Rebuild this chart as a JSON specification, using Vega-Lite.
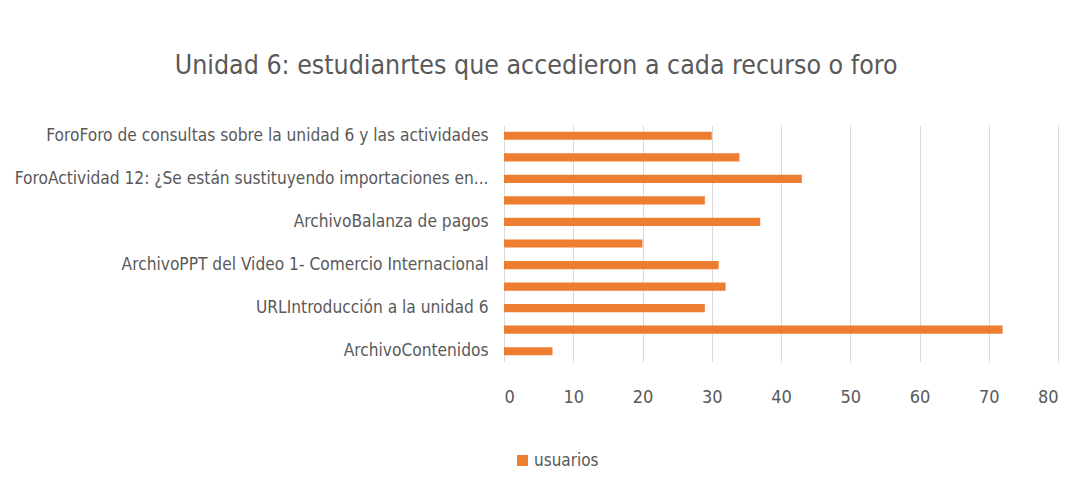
{
  "$schema": "https://vega.github.io/schema/vega-lite/v6.json",
  "autosize": {"type": "none"},
  "width": 554,
  "height": 237,
  "padding": {"left": 504, "top": 125, "right": 26, "bottom": 142},
  "background": "white",
  "title": {
    "text": "Unidad 6: estudianrtes que accedieron a cada recurso o foro",
    "font": "DejaVu Sans Condensed",
    "fontSize": 26.5,
    "fontWeight": "normal",
    "color": "#595959",
    "anchor": "middle",
    "frame": "bounds",
    "offset": 46
  },
  "data": {
    "values": [
      {"orden": 1, "recurso": "ForoForo de consultas sobre la unidad 6 y las actividades", "serie": "usuarios", "usuarios": 30},
      {"orden": 2, "recurso": "Recurso 10", "serie": "usuarios", "usuarios": 34},
      {"orden": 3, "recurso": "ForoActividad 12: ¿Se están sustituyendo importaciones en...", "serie": "usuarios", "usuarios": 43},
      {"orden": 4, "recurso": "Recurso 8", "serie": "usuarios", "usuarios": 29},
      {"orden": 5, "recurso": "ArchivoBalanza de pagos", "serie": "usuarios", "usuarios": 37},
      {"orden": 6, "recurso": "Recurso 6", "serie": "usuarios", "usuarios": 20},
      {"orden": 7, "recurso": "ArchivoPPT del Video 1- Comercio Internacional", "serie": "usuarios", "usuarios": 31},
      {"orden": 8, "recurso": "Recurso 4", "serie": "usuarios", "usuarios": 32},
      {"orden": 9, "recurso": "URLIntroducción a la unidad 6", "serie": "usuarios", "usuarios": 29},
      {"orden": 10, "recurso": "Recurso 2", "serie": "usuarios", "usuarios": 72},
      {"orden": 11, "recurso": "ArchivoContenidos", "serie": "usuarios", "usuarios": 7}
    ]
  },
  "mark": {"type": "bar"},
  "encoding": {
    "y": {
      "field": "recurso",
      "type": "nominal",
      "sort": {"field": "orden", "order": "ascending"},
      "scale": {"paddingInner": 0.62, "paddingOuter": 0.31},
      "axis": {
        "title": null,
        "domain": false,
        "ticks": false,
        "labelExpr": "test(/^Recurso \\d+$/, datum.value) ? '' : datum.value",
        "labelFont": "DejaVu Sans Condensed",
        "labelFontSize": 17.2,
        "labelColor": "#595959",
        "labelPadding": 16,
        "labelLimit": 0
      }
    },
    "x": {
      "field": "usuarios",
      "type": "quantitative",
      "scale": {"domain": [0, 80], "nice": false},
      "axis": {
        "title": null,
        "values": [0, 10, 20, 30, 40, 50, 60, 70, 80],
        "domain": false,
        "ticks": false,
        "grid": true,
        "gridColor": "#d9d9d9",
        "labelFont": "DejaVu Sans Condensed",
        "labelFontSize": 18,
        "labelColor": "#595959",
        "labelPadding": 26
      }
    },
    "color": {
      "field": "serie",
      "type": "nominal",
      "scale": {"range": ["#ED7D31"]},
      "legend": {
        "title": null,
        "orient": "none",
        "legendX": 10,
        "legendY": 327,
        "symbolType": "square",
        "symbolSize": 120,
        "symbolStrokeWidth": 0,
        "labelFont": "DejaVu Sans Condensed",
        "labelFontSize": 17,
        "labelColor": "#595959",
        "labelOffset": 3
      }
    }
  },
  "config": {"view": {"stroke": null}}
}
